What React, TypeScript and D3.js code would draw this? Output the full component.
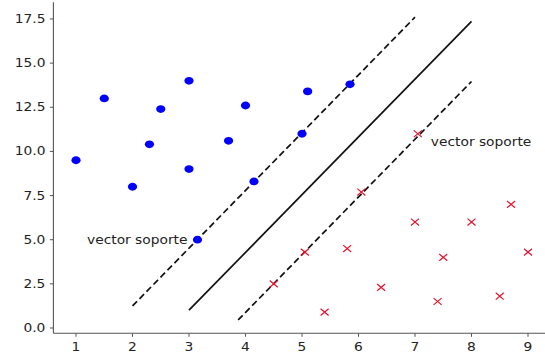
import React from "react";
import * as d3 from "d3";

// Class A (blue circles)
const classAX = [1, 1.5, 2, 2.3, 2.5, 3, 3, 3.7, 4, 4.15, 3.15, 5, 5.1, 5.85];
const classAY = [9.5, 13, 8, 10.4, 12.4, 14, 9, 10.6, 12.6, 8.3, 5, 11, 13.4, 13.8];

// Class B (red crosses)
const classBX = [4.5, 5.05, 5.4, 5.8, 6.05, 6.4, 7, 7.05, 7.4, 7.5, 8, 8.5, 8.7, 9];
const classBY = [2.5, 4.3, 0.9, 4.5, 7.7, 2.3, 6, 11, 1.5, 4, 6, 1.8, 7, 4.3];

// Decision boundary and margins: y = slope * x + intercept over [xStart, xEnd]
const lineSlopes = [3.27, 3.27, 3.27];
const lineIntercepts = [-8.8, -5.29, -12.2];
const lineXStart = [3, 2, 3.87];
const lineXEnd = [8, 7, 8];
const lineDashed = [false, true, true];

const xTicks = [1, 2, 3, 4, 5, 6, 7, 8, 9];
const yTicks = [0, 2.5, 5, 7.5, 10, 12.5, 15, 17.5];

// Annotated support vectors
const annotLabels = ["vector soporte", "vector soporte"];
const annotX = [3.15, 7.05];
const annotY = [5, 11];

const W = 545;
const H = 360;
const SX = 1.2; // horizontal stretch applied to text
const FONT = "DejaVu Sans, sans-serif";

export default function App() {
  const x = d3.scaleLinear().domain([0.6, 9.4]).range([53.4, 550.6]);
  const y = d3.scaleLinear().domain([-0.3, 18.45]).range([333.3, 2.2]);
  const left = x.range()[0];
  const bottom = y.range()[0];
  const axisColor = "#555";
  const textColor = "#222";

  const text = (
    key: string,
    tx: number,
    ty: number,
    s: string,
    anchor: "start" | "middle" | "end"
  ) => (
    <text
      key={key}
      transform={`translate(${tx},${ty}) scale(${SX},1)`}
      textAnchor={anchor}
      fontFamily={FONT}
      fontSize={11.5}
      fill={textColor}
    >
      {s}
    </text>
  );

  return (
    <svg
      width={W}
      height={H}
      style={{ position: "fixed", left: 0, top: 0, background: "#fff" }}
    >
      <rect width={W} height={H} fill="#fff" />
      {/* lines */}
      {lineSlopes.map((m, i) => {
        const pts: [number, number][] = [lineXStart[i], lineXEnd[i]].map(
          (xv) => [xv, m * xv + lineIntercepts[i]] as [number, number]
        );
        const path = d3
          .line<[number, number]>()
          .x((d) => x(d[0]))
          .y((d) => y(d[1]))(pts);
        return (
          <path
            key={`l${i}`}
            d={path || ""}
            fill="none"
            stroke="#111"
            strokeWidth={1.7}
            strokeDasharray={lineDashed[i] ? "6.5,3.5" : undefined}
          />
        );
      })}
      {/* class A */}
      {classAX.map((xv, i) => (
        <ellipse
          key={`a${i}`}
          cx={x(xv)}
          cy={y(classAY[i])}
          rx={4.6}
          ry={3.9}
          fill="#0000ff"
        />
      ))}
      {/* class B */}
      {classBX.map((xv, i) => {
        const cx = x(xv);
        const cy = y(classBY[i]);
        const dx = 4;
        const dy = 3.4;
        return (
          <path
            key={`b${i}`}
            d={`M${cx - dx},${cy - dy}L${cx + dx},${cy + dy}M${cx - dx},${cy + dy}L${cx + dx},${cy - dy}`}
            stroke="#e8102a"
            strokeWidth={1.2}
            fill="none"
          />
        );
      })}
      {/* annotations */}
      {text("t0", x(annotX[0]) - 10, y(annotY[0]) + 4, annotLabels[0], "end")}
      {text("t1", x(annotX[1]) + 13, y(annotY[1]) + 12, annotLabels[1], "start")}
      {/* spines */}
      <line x1={left} x2={left} y1={y.range()[1]} y2={bottom} stroke={axisColor} strokeWidth={1.1} />
      <line x1={left} x2={W} y1={bottom} y2={bottom} stroke={axisColor} strokeWidth={1.1} />
      {/* x ticks */}
      {xTicks.map((t) => (
        <g key={`xt${t}`}>
          <line x1={x(t)} x2={x(t)} y1={bottom} y2={bottom + 3.5} stroke={axisColor} />
          {text(`xl${t}`, x(t), bottom + 18, String(t), "middle")}
        </g>
      ))}
      {/* y ticks */}
      {yTicks.map((t) => (
        <g key={`yt${t}`}>
          <line x1={left - 3.5} x2={left} y1={y(t)} y2={y(t)} stroke={axisColor} />
          {text(`yl${t}`, left - 8, y(t) + 4, t.toFixed(1), "end")}
        </g>
      ))}
    </svg>
  );
}
